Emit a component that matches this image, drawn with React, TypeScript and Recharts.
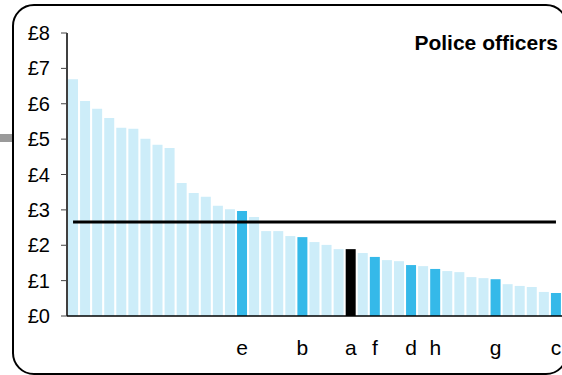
import React from 'react';
import { BarChart, Bar, XAxis, YAxis, Cell, ReferenceLine } from 'recharts';

// cost per head, sorted high to low
const values = [
  6.69, 6.08, 5.86, 5.6, 5.32, 5.29, 5.01, 4.84, 4.75, 3.76,
  3.48, 3.37, 3.12, 3.02, 2.97, 2.8, 2.4, 2.4, 2.26, 2.23,
  2.09, 2.01, 1.89, 1.89, 1.78, 1.67, 1.58, 1.55, 1.44, 1.41,
  1.33, 1.27, 1.24, 1.1, 1.07, 1.04, 0.9, 0.85, 0.82, 0.68,
  0.65,
];

// letters under the highlighted bars
const labels = [
  '', '', '', '', '', '', '', '', '', '',
  '', '', '', '', 'e', '', '', '', '', 'b',
  '', '', '', 'a', '', 'f', '', '', 'd', '',
  'h', '', '', '', '', 'g', '', '', '', '',
  'c',
];

const yTicks = [0, 1, 2, 3, 4, 5, 6, 7, 8];
const average = 2.66;

const LIGHT = '#cdedf9';
const BLUE = '#35b9e9';
const BLACK = '#000000';

const data = values.map((v, i) => ({ id: i, value: v }));

const barColor = (i: number) => {
  if (labels[i] === 'a') return BLACK;
  if (labels[i]) return BLUE;
  return LIGHT;
};

const LetterTick = ({ x, y, payload }: any) => {
  const text = labels[payload.value];
  if (!text) return null;
  return (
    <text x={x} y={y + 39} textAnchor="middle" fontSize={21} fill="#000">
      {text}
    </text>
  );
};

export default function App() {
  return (
    <div
      style={{
        position: 'fixed',
        left: 0,
        top: 0,
        width: 562,
        height: 375,
        overflow: 'hidden',
        background: '#fff',
        fontFamily: '"Liberation Sans", Arial, sans-serif',
      }}
    >
      {/* connector stub on the left */}
      <div style={{ position: 'absolute', left: 0, top: 134, width: 12, height: 8, background: '#9a9a9a' }} />

      {/* rounded frame, runs off the right edge */}
      <div
        style={{
          position: 'absolute',
          left: 12,
          top: 4,
          width: 556,
          height: 371,
          border: '2px solid #000',
          borderRadius: 22,
          boxSizing: 'border-box',
        }}
      />

      <div style={{ position: 'absolute', left: 0, top: 0 }}>
        <BarChart
          width={562}
          height={375}
          data={data}
          margin={{ top: 33, right: 0, left: 0, bottom: 19 }}
          barCategoryGap={1}
        >
          <XAxis
            dataKey="id"
            interval={0}
            tickLine={false}
            tickSize={0}
            tickMargin={0}
            tick={<LetterTick />}
            axisLine={{ stroke: '#000', strokeWidth: 1.5 }}
            height={40}
          />
          <YAxis
            domain={[0, 8]}
            ticks={yTicks}
            width={67}
            tickSize={6}
            tickMargin={11}
            tickFormatter={(v: number) => `£${v}`}
            tick={{ fontSize: 20, fill: '#000' }}
            tickLine={{ stroke: '#444' }}
            axisLine={{ stroke: '#000', strokeWidth: 1.5 }}
          />
          <Bar dataKey="value" isAnimationActive={false}>
            {data.map((d) => (
              <Cell key={d.id} fill={barColor(d.id)} />
            ))}
          </Bar>
          <ReferenceLine
            segment={[
              { x: 0, y: average },
              { x: values.length - 1, y: average },
            ]}
            stroke="#000"
            strokeWidth={3}
          />
        </BarChart>
      </div>

      <div
        style={{
          position: 'absolute',
          right: 4,
          top: 32,
          fontSize: 21,
          lineHeight: '21px',
          fontWeight: 'bold',
          color: '#000',
        }}
      >
        Police officers
      </div>
    </div>
  );
}
